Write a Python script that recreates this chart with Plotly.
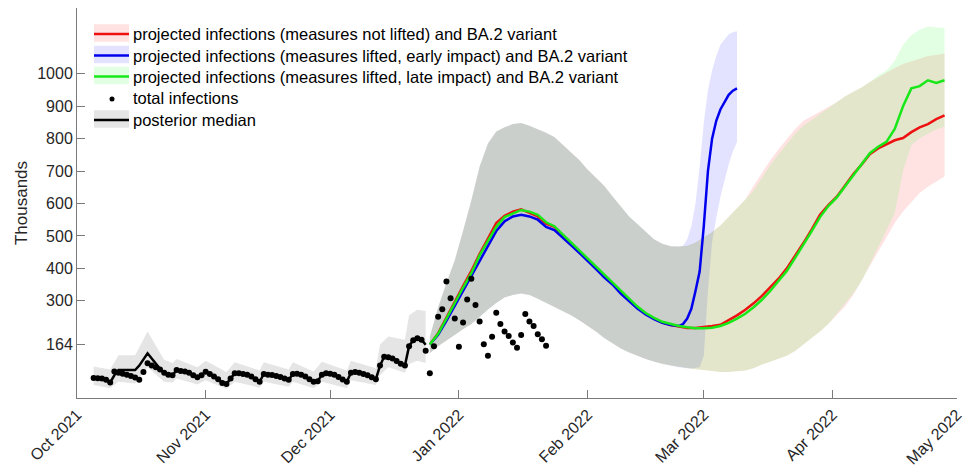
import plotly.graph_objects as go
import pandas as pd

# ---------------- data (thousands) ----------------
# daily observed totals, 5 Oct 2021 .. 22 Jan 2022
total_infections = [
    62, 61, 60, 56, 48, 82,
    78, 75, 72, 68, 63, 56, 80,
    107, 100, 95, 88, 78, 72, 70,
    86, 83, 82, 78, 70, 64, 70,
    81, 74, 66, 58, 46, 43, 60,
    76, 76, 74, 72, 66, 58, 50,
    74, 72, 71, 68, 65, 60, 56,
    74, 75, 72, 66, 58, 50, 52,
    72, 76, 75, 72, 65, 57, 50,
    78, 80, 78, 74, 70, 64, 58,
    100, 127, 126, 122, 114, 106, 100,
    160, 178, 184, 180, 146,
    76, 160, 251, 274, 359, 308, 245, 158, 233, 304, 368, 287, 236, 166,
    130, 189, 263, 228, 205, 191, 171, 155, 194, 259, 236, 222, 197, 181, 161,
]
obs_start = "2021-10-05"

# posterior median, 5 Oct .. 24 Dec 2021
posterior_median = [
    62, 61, 60, 56, 48, 70,
    86, 86, 86, 86, 86, 100, 118,
    138, 122, 105, 90, 76, 71, 70,
    86, 83, 82, 78, 70, 64, 70,
    81, 74, 66, 58, 46, 43, 60,
    76, 76, 74, 72, 66, 58, 50,
    74, 72, 71, 68, 65, 60, 56,
    74, 75, 72, 66, 58, 50, 52,
    72, 76, 75, 72, 65, 57, 50,
    78, 80, 78, 74, 70, 64, 58,
    100, 127, 126, 122, 114, 106, 100,
    160, 178, 184, 180, 164,
]

posterior_band_dates = ["2021-10-05", "2021-10-09", "2021-10-11", "2021-10-15", "2021-10-18",
                        "2021-10-22", "2021-10-24", "2021-10-25", "2021-10-30", "2021-11-01",
                        "2021-11-06", "2021-11-08", "2021-11-14", "2021-11-15", "2021-11-21",
                        "2021-11-22", "2021-11-27", "2021-11-29", "2021-12-05", "2021-12-06",
                        "2021-12-12", "2021-12-13", "2021-12-15", "2021-12-19", "2021-12-20",
                        "2021-12-22", "2021-12-24"]
posterior_lo = [40, 30, 50, 45, 95, 50, 48, 60, 42, 55, 28, 50, 32, 50, 35,
                50, 30, 50, 30, 55, 40, 70, 95, 78, 105, 115, 108]
posterior_hi = [97, 88, 132, 132, 205, 118, 108, 120, 95, 115, 80, 110, 85, 110, 88,
                110, 82, 112, 85, 115, 92, 165, 190, 180, 255, 272, 268]

# projections, every 2 days 25 Dec 2021 .. 28 Apr 2022
proj_start, proj_end = "2021-12-25", "2022-04-28"
red_median = [165, 200, 248, 298, 345, 392, 445, 492, 540, 562, 575, 582, 572, 560, 538, 528,
              502, 478, 452, 428, 400, 378, 355, 328, 302, 280, 260, 245, 233, 225, 220, 216,
              216, 218, 222, 226, 240, 255, 272, 292, 315, 340, 368, 400, 438, 478, 520, 565,
              595, 620, 655, 690, 720, 752, 770, 782, 795, 802, 820, 835, 845, 860, 872]
green_median = [165, 198, 245, 295, 340, 385, 440, 485, 528, 558, 570, 580, 575, 565, 542, 530,
                505, 480, 455, 430, 405, 380, 358, 330, 305, 282, 262, 247, 235, 228, 222, 218,
                215, 215, 217, 222, 232, 245, 260, 280, 303, 330, 360, 392, 432, 472, 515, 558,
                592, 618, 652, 688, 720, 755, 775, 790, 830, 900, 955, 962, 980, 972, 980]
red_hi = [189, 280, 355, 425, 515, 610, 714, 785, 822, 835, 845, 848, 840, 830, 818, 805,
          782, 758, 734, 705, 680, 655, 622, 590, 560, 537, 513, 490, 476, 468, 467, 470,
          480, 495, 512, 532, 558, 585, 612, 655, 695, 733, 767, 800, 830, 855, 870, 885,
          898, 912, 930, 945, 958, 975, 990, 1003, 1018, 1030, 1038, 1048, 1055, 1058, 1063]
green_hi = [189, 280, 355, 425, 515, 610, 714, 785, 822, 835, 845, 848, 840, 830, 818, 805,
            782, 758, 734, 705, 680, 655, 622, 590, 560, 537, 513, 490, 476, 468, 467, 470,
            480, 495, 512, 532, 558, 585, 612, 640, 680, 718, 752, 785, 815, 840, 858, 878,
            895, 912, 930, 945, 958, 975, 995, 1010, 1040, 1090, 1120, 1136, 1146, 1144, 1141]
green_lo = [138, 160, 178, 195, 212, 228, 250, 273, 293, 310, 318, 322, 318, 306, 294, 282,
            268, 255, 240, 223, 205, 185, 168, 153, 140, 130, 120, 112, 105, 100, 95, 92,
            89, 86, 82, 80, 80, 82, 85, 92, 103, 112, 122, 130, 145, 165, 185, 205,
            228, 258, 290, 322, 360, 412, 465, 518, 570, 700, 780, 801, 815, 828, 837]
red_lo = [138, 160, 178, 195, 212, 228, 250, 273, 293, 310, 318, 322, 318, 306, 294, 282,
          268, 255, 240, 223, 205, 185, 168, 153, 140, 130, 120, 112, 105, 100, 95, 92,
          89, 86, 82, 80, 80, 82, 85, 92, 103, 112, 122, 130, 145, 165, 185, 205,
          228, 255, 282, 318, 360, 405, 450, 495, 540, 575, 605, 632, 652, 668, 683]

# early-impact projection: every 2 days to 23 Feb, then daily to 9 Mar 2022
blue_median = [165, 195, 238, 285, 330, 375, 425, 470, 515, 545, 560, 565, 560, 550, 528, 518,
               496, 472, 448, 424, 398, 372, 350, 322, 298, 276, 258, 243, 232, 225, 222,
               228, 245, 275, 330, 390, 530, 700, 800, 855, 890, 915, 935, 948, 955]
blue_hi = [189, 280, 355, 425, 515, 610, 714, 785, 822, 835, 845, 848, 840, 830, 818, 805,
           782, 758, 734, 705, 680, 655, 622, 590, 560, 537, 513, 490, 476, 468, 467,
           470, 490, 530, 600, 714, 850, 950, 1010, 1055, 1090, 1105, 1122, 1128, 1131]
blue_lo = [138, 160, 178, 195, 212, 228, 250, 273, 293, 310, 318, 322, 318, 306, 294, 282,
           268, 255, 240, 223, 205, 185, 168, 153, 140, 130, 120, 112, 105, 100, 95,
           93, 92, 91, 92, 95, 130, 330, 480, 555, 620, 670, 720, 760, 790]

y_ticks = [164, 300, 400, 500, 600, 700, 800, 900, 1000]
legend_labels = [
    "projected infections (measures not lifted) and BA.2 variant",
    "projected infections (measures lifted, early impact) and BA.2 variant",
    "projected infections (measures lifted, late impact) and BA.2 variant",
    "total infections",
    "posterior median",
]

# ---------------- build ----------------
obs_dates = pd.date_range(obs_start, periods=len(total_infections), freq="D")
med_dates = pd.date_range(obs_start, periods=len(posterior_median), freq="D")
proj_dates = pd.date_range(proj_start, proj_end, freq="2D")
blue_dates = list(pd.date_range("2021-12-25", "2022-02-23", freq="2D")) + \
             list(pd.date_range("2022-02-24", "2022-03-09", freq="D"))
pb_dates = pd.to_datetime(posterior_band_dates)

RED, BLUE, GREEN = "#ee1111", "#0000ee", "#18e818"
RED_F, BLUE_F, GREEN_F = "rgba(255,0,0,0.11)", "rgba(0,0,255,0.11)", "rgba(0,255,0,0.11)"
GRAY_F = "rgba(0,0,0,0.10)"


def band(dates, lo, hi, color):
    d = list(dates)
    return go.Scatter(x=d + d[::-1], y=list(hi) + list(lo)[::-1], fill="toself",
                      fillcolor=color, line=dict(width=0), mode="lines",
                      hoverinfo="skip", showlegend=False)


fig = go.Figure()
fig.add_trace(band(pb_dates, posterior_lo, posterior_hi, GRAY_F))
fig.add_trace(band(proj_dates, red_lo, red_hi, RED_F))
fig.add_trace(band(blue_dates, blue_lo, blue_hi, BLUE_F))
fig.add_trace(band(proj_dates, green_lo, green_hi, GREEN_F))

fig.add_trace(go.Scatter(x=med_dates, y=posterior_median, mode="lines",
                         line=dict(color="black", width=2.5), showlegend=False))
fig.add_trace(go.Scatter(x=proj_dates, y=red_median, mode="lines",
                         line=dict(color=RED, width=2.5), showlegend=False))
fig.add_trace(go.Scatter(x=blue_dates, y=blue_median, mode="lines",
                         line=dict(color=BLUE, width=2.5), showlegend=False))
fig.add_trace(go.Scatter(x=proj_dates, y=green_median, mode="lines",
                         line=dict(color=GREEN, width=2.5), showlegend=False))
fig.add_trace(go.Scatter(x=obs_dates, y=total_infections, mode="markers",
                         marker=dict(color="black", size=6), showlegend=False))

# ---------------- manual legend (pixel -> paper) ----------------
L, T, W, H = 77, 8, 880, 390


def px(x):
    return (x - L) / W


def py(y):
    return (T + H - y) / H


shapes = []
annotations = []
sw = [(33, RED_F, RED), (54.5, BLUE_F, BLUE), (75.5, GREEN_F, GREEN), (None, None, None),
      (119, GRAY_F, "black")]
text_y = [34.5, 56, 76.5, 98.5, 120]
for i, (cy, fc, lc) in enumerate(sw):
    if cy is not None:
        shapes.append(dict(type="rect", xref="paper", yref="paper", x0=px(94), x1=px(129),
                           y0=py(cy + 8.7), y1=py(cy - 8.7), fillcolor=fc, line=dict(width=0),
                           layer="above"))
        shapes.append(dict(type="line", xref="paper", yref="paper", x0=px(94), x1=px(129),
                           y0=py(cy + 1), y1=py(cy + 1), line=dict(color=lc, width=2.5),
                           layer="above"))
    annotations.append(dict(xref="paper", yref="paper", x=px(131), y=py(text_y[i]),
                            xanchor="left", yanchor="middle", showarrow=False,
                            text=legend_labels[i],
                            font=dict(size=16.5, color="#000000",
                                      family="Liberation Sans, Arial, sans-serif")))
shapes.append(dict(type="circle", xref="paper", yref="paper", x0=px(109.5), x1=px(114.5),
                   y0=py(101.5), y1=py(96.5), fillcolor="black", line=dict(width=0),
                   layer="above"))

AX = "#7a7a7a"
fig.update_layout(
    width=970, height=467, autosize=False,
    margin=dict(l=L, r=970 - L - W, t=T, b=467 - T - H, pad=0),
    paper_bgcolor="white", plot_bgcolor="white",
    font=dict(family="Liberation Sans, Arial, sans-serif", size=16, color="#262626"),
    shapes=shapes, annotations=annotations,
    xaxis=dict(range=["2021-10-01", "2022-05-01"], tickformat="%b %Y", dtick="M1",
               tick0="2021-10-01", tickangle=-45, ticks="inside", ticklen=8,
               tickcolor=AX, showline=True, linecolor=AX, linewidth=1, showgrid=False,
               zeroline=False, tickfont=dict(size=16), automargin=False),
    yaxis=dict(range=[0, 1203], tickvals=y_ticks, ticks="inside", ticklen=8, tickcolor=AX,
               showline=True, linecolor=AX, linewidth=1, showgrid=False, zeroline=False,
               tickfont=dict(size=16), automargin=False,
               title=dict(text="Thousands", font=dict(size=17), standoff=5)),
)

fig.write_html("out.html", config={"displayModeBar": False},
               post_script="document.body.style.margin='0';document.body.style.overflow='hidden';")
